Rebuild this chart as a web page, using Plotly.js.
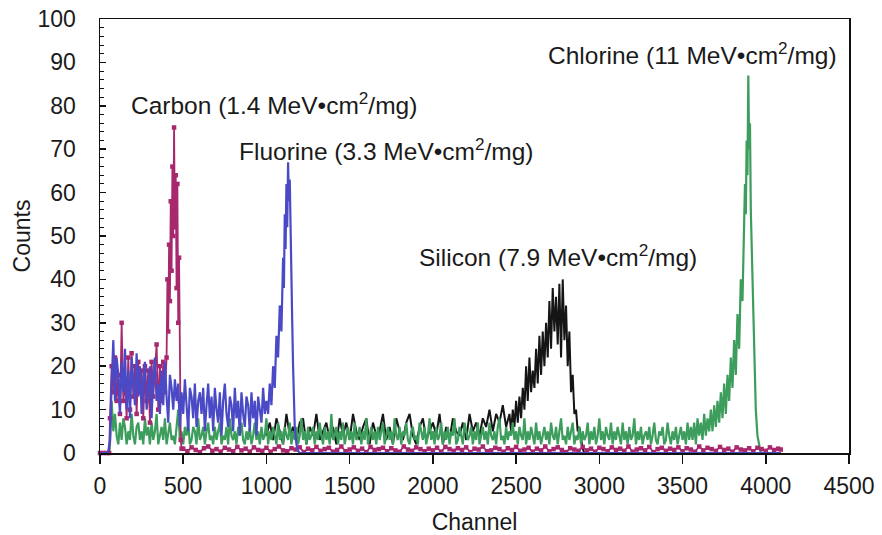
<!DOCTYPE html>
<html><head><meta charset="utf-8">
<script src="https://cdn.plot.ly/plotly-3.0.1.min.js"></script>
<style>html,body{margin:0;padding:0;background:#fff}#chart{width:882px;height:535px}</style>
</head><body><div id="chart"></div>
<script>
// ---------- data (channel, counts) ----------
function grid(start, step, n) { var a = []; for (var i = 0; i < n; i++) a.push(start + i * step); return a; }

// Carbon
var carbonLeadChannel = [0, 20, 40, 55];
var carbonLeadCounts = [0, 0, 0, 0];
var carbonNoiseStart = 60, carbonNoiseStep = 10;
var carbonNoiseCounts = [8,20,14,22,12,18,9,30,12,17,8,22,10,23,13,20,9,21,14,19,8,20,12,19,7,21,13,18,25,10,20,12,21,14,22];
var carbonPeakStart = 405, carbonPeakStep = 5;
var carbonPeakCounts = [40,28,48,35,58,42,66,50,75,52,64,38,62,30,45,12,3,1];
var carbonTailStart = 500, carbonTailStep = 25;
var carbonTailCounts = [
  1,0.4,1.3,0.7,0.2,1.1,1.5,0.5,0.9,0.3,1.2,0.8,0.4,1.4,0.6,1,0.3,1.3,0.7,0.5,
  1.2,0.3,0.9,1.5,0.6,0.4,1.1,0.8,1.3,0.2,1,0.6,1.4,0.5,0.9,1.2,0.3,0.7,1.5,0.4,
  0.8,1.3,0.5,1,0.2,1.4,0.7,0.9,1.2,0.4,1.1,0.6,0.3,1.5,0.8,0.5,1.3,0.9,0.4,1,
  0.6,1.2,0.3,1.4,0.9,0.5,1.1,0.7,1.3,0.2,1,0.8,1.5,0.4,0.6,1.2,0.9,0.3,1.1,0.7,
  1.4,0.5,0.8,1.2,0.3,1,0.6,1.5,0.4,0.9,1.3,0.7,0.2,1.1,0.8,0.5,1.4,0.6,1,0.3,
  1.2,0.9,0.4,1.3,0.7,1,0.5,1.5,0.3,0.8,1.1,0.6,1.4,0.2,0.9,1.2,0.5,1,0.7,1.3,
  0.4,1.1,0.8,0.3,1.5,0.6,1.2,0.9,0.5,1.4,0.7,1,0.3,1.3,0.8,0.6,1.1,0.4,1.2,0.9,
  0.5,1.3,0.7,1];
var carbonEndChannel = [4090];
var carbonEndCounts = [0.8];

// Fluorine
var fluorineLeadChannel = [0, 20, 40, 50];
var fluorineLeadCounts = [0, 0, 0, 0.5];
var fluorineNoiseStart = 60, fluorineNoiseStep = 10;
var fluorineNoiseCounts = [
  3,16,26,12,22,18,9,21,14,24,10,19,8,22,15,11,23,13,20,9,
  17,21,10,14,20,8,18,22,12,16,9,19,11,21,13,7,18,15,10,17,
  12,16,6,14,9,17,11,5,15,13,8,16,6,12,14,9,15,5,11,16,
  8,13,5,15,10,7,14,4,12,16,9,6,13,11,5,15,8,12,4,14,
  9,6,13,11,5,14,8,12,4,13,10,7,15,9,12];
var fluorinePeakChannel = [1010,1020,1030,1040,1050,1060,1070,1080,1090,1100,1105,1110,1115,1120,1125,1130,1135,1140,1145,1150,1155,1160,1165,1170,1180,1190,1200,1300,2000,3000,4090];
var fluorinePeakCounts = [9,16,11,20,15,27,22,34,28,45,38,55,47,62,52,67,58,63,48,40,30,20,12,6,2,0.5,0,0,0,0,0];

// Silicon
var siliconNoiseStart = 1000, siliconNoiseStep = 20;
var siliconNoiseCounts = [
  4,7,3,8,5,2,9,4,6,3,7,8,2,6,4,9,3,5,7,3,
  6,2,8,4,7,3,9,5,3,6,8,2,7,4,5,9,3,6,2,8,
  5,3,7,9,4,2,6,8,3,5,7,4,9,2,6,3,8,5,4,7,
  3,9,5,7,4,8,6,10,5,9,7,11,6,9];
var siliconPeakStart = 2470, siliconPeakStep = 10;
var siliconPeakCounts = [5,10,6,12,7,13,8,15,10,20,12,22,14,19,15,24,16,27,18,28,20,30,22,35,24,38,28,36,25,39,22,40,26,34,20,28,14,18,9,10,5,6,3,1];
var siliconEndChannel = [2910, 4090];
var siliconEndCounts = [0, 0];

// Chlorine
var chlorineLeadChannel = [0, 20, 40, 55, 60, 70];
var chlorineLeadCounts = [0, 0, 0, 0, 2, 12];
var chlorineNoiseStart = 80, chlorineNoiseStep = 10;
var chlorineNoiseCounts = [
  5,9,4,2,7,3,8,6,2,5,3,9,4,2,6,7,3,5,2,8,
  4,6,2,7,3,5,9,2,4,6,3,8,2,5,7,3,4,2,6,10,
  3,5,2,6,4,7,2,3,6,5,2,8,3,4,6,2,5,7,3,4,
  2,6,3,5,7,2,4,3,6,2,8,4,3,5,2,6,4,7,3,2,
  5,3,6,2,4,7,3,5,2,6,3,4,8,2,5,3,6,4,2,7,
  3,5,2,6,4,3,7,2,5,3,6,2,4,8,3,5,2,6,3,4,
  6,2,5,3,7,4,2,6,3,5,2,9,3,4,6,2,5,3,7,2,
  4,6,3,5,2,7,3,4,6,2,5,3,8,2,4,6,3,5,2,6,
  3,5,7,2,4,6,3,5,2,8,4,3,6,2,5,4,7,3,2,5,
  6,3,4,2,7,5,3,6,2,4,8,3,5,2,6,3,4,7,2,5,
  3,6,2,5,4,8,2,3,6,4,2,7,5,3,4,6,2,5,3,7,
  2,4,6,3,5,2,7,4,3,5,2,6,8,3,4,2,6,3,5,4,
  7,3,5,2,6,4,3,8,2,5,3,6,4,2,7,3,5,2,4,6,
  3,5,2,7,4,3,6,2,5,8,3,4,2,6,3,5,7,2,4,3,
  6,2,5,3,4,7,2,5,3,6,2,4,8,3,5,2,6,4,3,7,
  2,5,3,6,4,2,7,3,5,2,6,3,4,8,2,5,3,6,2,4,
  5,3,6,2,4,7,3,2,5,4,6,2,3,7,4,2,5,3,6,2,
  4,6,3,5,2,7,3];
var chlorineRiseStart = 3550, chlorineRiseStep = 10;
var chlorineRiseCounts = [6,3,7,2,8,4,7,3,9,4,8,5,10,5,11,6,12,7,14,8,16,9,18,12,22,15,26,18,32,24,40,35];
var chlorinePeakStart = 3865, chlorinePeakStep = 5;
var chlorinePeakCounts = [45,52,62,55,72,64,87,70,76,56,48,35,28,20];
var chlorineEndChannel = [3940, 3950, 3960, 3970, 4000, 4090];
var chlorineEndCounts = [10, 4, 1.5, 0, 0, 0];

// Labels
var labelTexts = ['Carbon (1.4 MeV\u2022cm<sup>2</sup>/mg)', 'Fluorine (3.3 MeV\u2022cm<sup>2</sup>/mg)',
  'Silicon (7.9 MeV\u2022cm<sup>2</sup>/mg)', 'Chlorine (11 MeV\u2022cm<sup>2</sup>/mg)'];
var labelChannel = [177, 821, 1903, 2679];
var labelCounts = [80.5, 69.9, 45.4, 92];

// ---------- assemble ----------
function build(parts) {
  var x = [], y = [];
  parts.forEach(function (p) { x = x.concat(p[0]); y = y.concat(p[1]); });
  return [x, y];
}
var carbon = build([[carbonLeadChannel, carbonLeadCounts],
  [grid(carbonNoiseStart, carbonNoiseStep, carbonNoiseCounts.length), carbonNoiseCounts],
  [grid(carbonPeakStart, carbonPeakStep, carbonPeakCounts.length), carbonPeakCounts],
  [grid(carbonTailStart, carbonTailStep, carbonTailCounts.length), carbonTailCounts],
  [carbonEndChannel, carbonEndCounts]]);
var fluorine = build([[fluorineLeadChannel, fluorineLeadCounts],
  [grid(fluorineNoiseStart, fluorineNoiseStep, fluorineNoiseCounts.length), fluorineNoiseCounts],
  [fluorinePeakChannel, fluorinePeakCounts]]);
var silicon = build([[grid(siliconNoiseStart, siliconNoiseStep, siliconNoiseCounts.length), siliconNoiseCounts],
  [grid(siliconPeakStart, siliconPeakStep, siliconPeakCounts.length), siliconPeakCounts],
  [siliconEndChannel, siliconEndCounts]]);
var chlorine = build([[chlorineLeadChannel, chlorineLeadCounts],
  [grid(chlorineNoiseStart, chlorineNoiseStep, chlorineNoiseCounts.length), chlorineNoiseCounts],
  [grid(chlorineRiseStart, chlorineRiseStep, chlorineRiseCounts.length), chlorineRiseCounts],
  [grid(chlorinePeakStart, chlorinePeakStep, chlorinePeakCounts.length), chlorinePeakCounts],
  [chlorineEndChannel, chlorineEndCounts]]);

var traces = [
  {x: silicon[0], y: silicon[1], type: 'scatter', mode: 'lines', name: 'Silicon',
   line: {color: '#151515', width: 2}},
  {x: chlorine[0], y: chlorine[1], type: 'scatter', mode: 'lines', name: 'Chlorine',
   line: {color: '#3c9d5c', width: 2.2}},
  {x: carbon[0], y: carbon[1], type: 'scatter', mode: 'lines+markers', name: 'Carbon', cliponaxis: false,
   line: {color: '#a8286e', width: 1.8}, marker: {symbol: 'square', size: 4.5, color: '#a8286e'}},
  {x: fluorine[0], y: fluorine[1], type: 'scatter', mode: 'lines', name: 'Fluorine',
   line: {color: '#4a4ac6', width: 2.2}}
];

var font = 'Liberation Sans, Arial, Helvetica, sans-serif';
var annotations = labelTexts.map(function (t, i) {
  return {text: t, x: labelChannel[i], y: labelCounts[i], xref: 'x', yref: 'y',
    xanchor: 'left', yanchor: 'middle', showarrow: false, font: {family: font, size: 24.5, color: '#1a1a1a'}};
});

var layout = {
  width: 882, height: 535,
  margin: {l: 100, r: 33, t: 19, b: 82},
  paper_bgcolor: '#fff', plot_bgcolor: '#fff',
  showlegend: false,
  font: {family: font, color: '#1a1a1a', size: 23},
  xaxis: {range: [0, 4500], dtick: 500, tick0: 0, ticks: 'outside', ticklen: 9, tickwidth: 1.5, tickcolor: '#111',
    showline: true, linecolor: '#111', linewidth: 1.5, mirror: true, showgrid: false, zeroline: false,
    tickfont: {size: 23}, ticklabelstandoff: 3, title: {text: 'Channel', font: {size: 23}, standoff: 16}},
  yaxis: {range: [0, 100], dtick: 10, tick0: 0, ticks: 'inside', ticklen: 6, tickwidth: 1.5, tickcolor: '#111',
    minor: {dtick: 2, ticks: 'inside', ticklen: 3.5, tickwidth: 1, tickcolor: '#111'},
    showline: true, linecolor: '#111', linewidth: 1.5, mirror: true, showgrid: false, zeroline: false,
    tickfont: {size: 23}, ticklabelstandoff: 18, title: {text: 'Counts', font: {size: 23}, standoff: 0}},
  annotations: annotations
};

Plotly.newPlot('chart', traces, layout, {displayModeBar: false, staticPlot: true});
</script></body></html>
